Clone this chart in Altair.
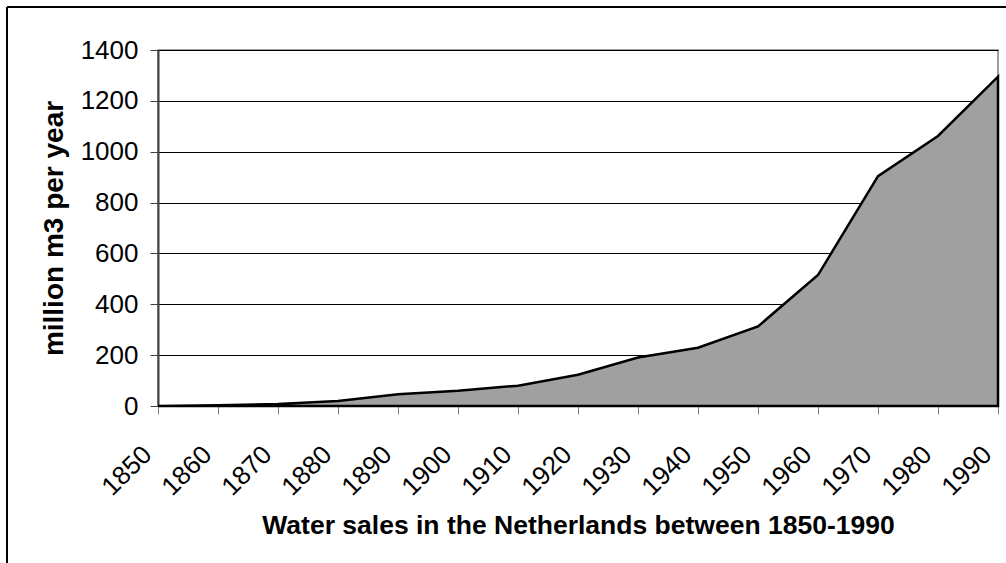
import altair as alt
import pandas as pd

years = [1850, 1860, 1870, 1880, 1890, 1900, 1910, 1920, 1930, 1940, 1950, 1960, 1970, 1980, 1990]
sales = [0, 3, 8, 20, 46, 60, 80, 123, 191, 229, 313, 515, 904, 1062, 1295]
y_ticks = [0, 200, 400, 600, 800, 1000, 1200, 1400]

df = pd.DataFrame({"year": years, "sales": sales})

FONT = "Liberation Sans"

x_enc = alt.X(
    "year:Q",
    scale=alt.Scale(domain=[1850, 1990], nice=False, zero=False),
    axis=alt.Axis(
        values=years,
        format="d",
        title="Water sales in the Netherlands between 1850-1990",
        titleFont=FONT,
        titleFontSize=26.5,
        titleFontWeight="bold",
        titleColor="black",
        titlePadding=12,
        labelFont=FONT,
        labelFontSize=26,
        labelColor="black",
        labelAngle=-45,
        labelAlign="right",
        labelBaseline="middle",
        labelPadding=36,
        labelOffset=-11,
        tickSize=8,
        tickColor="#808080",
        domainColor="black",
        domainWidth=1,
        grid=False,
    ),
)

y_enc = alt.Y(
    "sales:Q",
    scale=alt.Scale(domain=[0, 1400], nice=False),
    axis=alt.Axis(
        values=y_ticks,
        format="d",
        title="million m3 per year",
        titleFont=FONT,
        titleFontSize=28,
        titleFontWeight="bold",
        titleColor="black",
        titlePadding=12,
        labelFont=FONT,
        labelFontSize=26,
        labelColor="black",
        labelPadding=12,
        tickSize=8,
        tickColor="#404040",
        domainColor="#404040",
        domainWidth=2,
        grid=True,
        gridColor="black",
        gridWidth=1,
    ),
)

area = alt.Chart(df).mark_area(
    color="#A0A0A0",
    stroke="black",
    strokeWidth=2.5,
    line=False,
).encode(x=x_enc, y=y_enc)

frame_top = alt.Chart(df).mark_rule(color="black", strokeWidth=1.5).encode(
    x=alt.value(-151), x2=alt.value(900), y=alt.value(-43)
)
frame_left = alt.Chart(df).mark_rule(color="black", strokeWidth=1.5).encode(
    x=alt.value(-151), y=alt.value(-43), y2=alt.value(600)
)

chart = (
    alt.layer(area, frame_top, frame_left)
    .properties(
        width=840,
        height=356,
        autosize=alt.AutoSizeParams(type="none"),
        padding={"left": 158, "top": 50, "right": 8, "bottom": 157},
        background="white",
    )
    .configure_view(stroke="#808080", strokeWidth=1.5)
)

chart.save("out.html", embed_options={"renderer": "svg", "actions": False})
